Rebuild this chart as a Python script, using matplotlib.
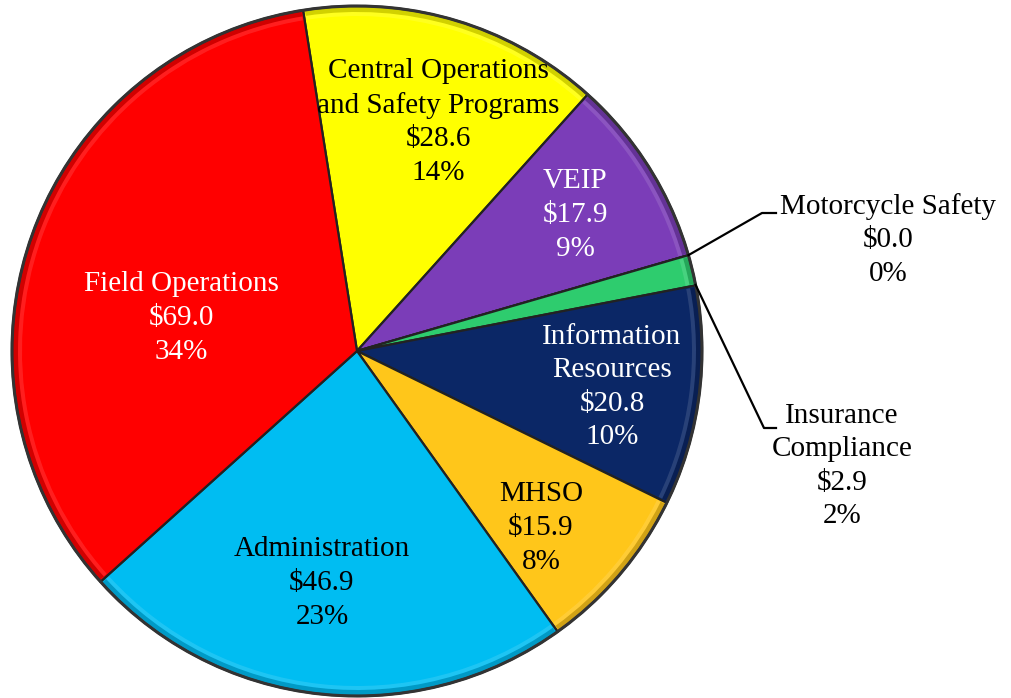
import numpy as np
import matplotlib.pyplot as plt
from matplotlib.patches import Wedge

# data (millions), clockwise from the top
categories = ['Central Operations\nand Safety Programs', 'VEIP', 'Motorcycle Safety',
              'Insurance\nCompliance', 'Information\nResources', 'MHSO',
              'Administration', 'Field Operations']
values = [28.6, 17.9, 0.0, 2.9, 20.8, 15.9, 46.9, 69.0]
percents = [14, 9, 0, 2, 10, 8, 23, 34]

colors = ['#FFFF00', '#7B3DB8', '#2ECC6E', '#2ECC6E', '#0B2766', '#FFC61A', '#00BDF2', '#FF0000']
text_colors = ['black', 'white', 'black', 'black', 'white', 'black', 'black', 'white']
# label centres in pixels (x, y from top)
label_pos = [(438, 122), (575, 215), (888, 240), (842, 466), (612, 387),
             (541, 528), (322, 583), (181, 318)]

W, H = 1011, 698
fig = plt.figure(figsize=(W / 100, H / 100), dpi=100)
ax = fig.add_axes([0, 0, 1, 1])

cx, cy, r = 357, H - 351, 345
wedges, _ = ax.pie(values, colors=colors, startangle=99, counterclock=False,
                   center=(cx, cy), radius=r, frame=True,
                   wedgeprops=dict(edgecolor='#222222', linewidth=1.6))
ax.set_xlim(0, W)
ax.set_ylim(0, H)
ax.axis('off')

# simple bevel: darker outer rim with a soft highlight inside it
for w in wedges:
    if w.theta2 - w.theta1 < 0.1:
        continue
    ax.add_patch(Wedge((cx, cy), r - 1, w.theta1 + 0.3, w.theta2 - 0.3, width=5,
                       facecolor='black', alpha=0.18, edgecolor='none'))
    ax.add_patch(Wedge((cx, cy), r - 6, w.theta1 + 0.3, w.theta2 - 0.3, width=4,
                       facecolor='white', alpha=0.12, edgecolor='none'))
ax.add_patch(plt.Circle((cx, cy), r, fill=False, edgecolor='#333333', linewidth=2.2))

font = dict(family='Liberation Serif', fontsize=21)
for cat, v, p, col, (px, py) in zip(categories, values, percents, text_colors, label_pos):
    ax.text(px, H - py, f'{cat}\n${v:.1f}\n{p}%', ha='center', va='center',
            color=col, linespacing=1.38, **font)

# leader lines for the two thin slices
def rim(theta):
    t = np.deg2rad(theta)
    return cx + r * np.cos(t), cy + r * np.sin(t)

x0, y0 = rim(wedges[2].theta1)
ax.plot([x0, 762, 776], [y0, H - 213, H - 213], color='black', lw=1.6)
x1, y1 = rim((wedges[3].theta1 + wedges[3].theta2) / 2 - 2.5)
ax.plot([x1, 764, 776], [y1, H - 428, H - 428], color='black', lw=1.6)

fig.savefig('out.png', dpi=100)
